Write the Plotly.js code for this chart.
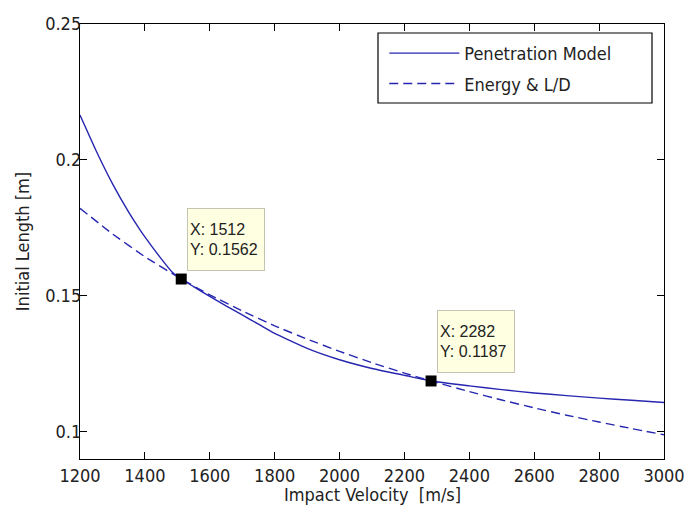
<!DOCTYPE html>
<html>
<head>
<meta charset="utf-8">
<script src="https://cdn.plot.ly/plotly-3.0.1.min.js"></script>
<style>html,body{margin:0;padding:0;background:#fff;}#chart{width:684px;height:519px;}</style>
</head>
<body>
<div id="chart"></div>
<script>
// Penetration Model curve (impact velocity m/s -> initial length m)
var velPenetration = [1200, 1250, 1300, 1350, 1385, 1400, 1450, 1483, 1512, 1550, 1600, 1650, 1700, 1750, 1800, 1900, 2000, 2100, 2200, 2282, 2400, 2500, 2600, 2700, 2800, 2900, 3000];
var lenPenetration = [0.2165, 0.2033, 0.1913, 0.1808, 0.1743, 0.1717, 0.1637, 0.1589, 0.1562, 0.1534, 0.1498, 0.1463, 0.1430, 0.1396, 0.1362, 0.1307, 0.1265, 0.1233, 0.1208, 0.1187, 0.1169, 0.1155, 0.1143, 0.1133, 0.1124, 0.1116, 0.1108];
// Energy & L/D curve
var velEnergy = [1200, 1300, 1400, 1512, 1600, 1700, 1800, 1900, 2000, 2100, 2200, 2282, 2400, 2500, 2600, 2700, 2800, 2900, 3000];
var lenEnergy = [0.1822, 0.1728, 0.1644, 0.1562, 0.1504, 0.1445, 0.1390, 0.1341, 0.1296, 0.1254, 0.1216, 0.1187, 0.1148, 0.1117, 0.1088, 0.1061, 0.1036, 0.1012, 0.0989];
// Data tips
var tipVel = [1512, 2282];
var tipLen = [0.1562, 0.1187];
// Ticks
var xTicks = [1200, 1400, 1600, 1800, 2000, 2200, 2400, 2600, 2800, 3000];
var yTicks = [0.1, 0.15, 0.2, 0.25];
var yTickText = ['0.1', '0.15', '0.2', '0.25'];
var xTitle = 'Impact Velocity&nbsp;&nbsp;[m/s]';
var yTitle = 'Initial Length [m]';

var lineColor = '#2626b0';
var fontFam = '"DejaVu Sans Condensed", "Liberation Sans", Arial, sans-serif';
var txtColor = '#222222';

var traces = [
  {x: velPenetration, y: lenPenetration, type: 'scatter', mode: 'lines', name: 'Penetration Model',
   legendgroup: 'a', line: {color: lineColor, width: 1.4, shape: 'spline', smoothing: 0.4}},
  {x: velEnergy, y: lenEnergy, type: 'scatter', mode: 'lines', name: 'Energy & L/D',
   legendgroup: 'b', line: {color: lineColor, width: 1.4, dash: '9px,5px', shape: 'spline', smoothing: 0.4}},
  {x: tipVel, y: tipLen, type: 'scatter', mode: 'markers', showlegend: false, hoverinfo: 'skip',
   marker: {symbol: 'square', size: 11, color: '#000000'}}
];

var annotations = tipVel.map(function(v, i) {
  return {x: v, y: tipLen[i], xref: 'x', yref: 'y', showarrow: false,
    xanchor: 'left', yanchor: 'bottom', xshift: 6, yshift: 8,
    text: 'X: ' + v + '<br>Y: ' + tipLen[i], align: 'left',
    width: 72, height: 57, valign: 'middle',
    bgcolor: '#ffffe1', bordercolor: '#c4c4b0', borderwidth: 1, borderpad: 2,
    font: {family: '"Liberation Sans", Arial, sans-serif', size: 16, color: txtColor}};
});
annotations.push({x: 0.5, y: -(494 - 459) / 435, xref: 'paper', yref: 'paper', showarrow: false,
  xanchor: 'center', yanchor: 'middle', text: xTitle,
  font: {family: fontFam, size: 18, color: txtColor}});

var layout = {
  width: 684, height: 519,
  margin: {l: 80, r: 20, t: 24, b: 60, pad: 0},
  paper_bgcolor: '#ffffff', plot_bgcolor: '#ffffff',
  font: {family: fontFam, size: 18, color: txtColor},
  showlegend: true,
  legend: {x: 0.92, y: 0.975, xanchor: 'right', yanchor: 'top', bgcolor: 'rgba(0,0,0,0)',
    borderwidth: 0, font: {family: fontFam, size: 18, color: txtColor},
    itemwidth: 70, tracegroupgap: 4},
  xaxis: {range: [1200, 3000], tickvals: xTicks, ticks: 'inside', ticklen: 7, tickcolor: '#000',
    showline: true, linecolor: '#000', linewidth: 1.2, mirror: 'ticks', showgrid: false, zeroline: false,
    ticklabeloverflow: 'allow',
    tickfont: {family: fontFam, size: 18, color: txtColor}},
  yaxis: {range: [0.09, 0.25], tickvals: yTicks, ticktext: yTickText, ticks: 'inside', ticklen: 7, tickcolor: '#000',
    showline: true, linecolor: '#000', linewidth: 1.2, mirror: 'ticks', showgrid: false, zeroline: false,
    ticklabelstandoff: -6, ticklabeloverflow: 'allow',
    tickfont: {family: fontFam, size: 18, color: txtColor},
    title: {text: yTitle, font: {family: fontFam, size: 18, color: txtColor}, standoff: 10}},
  shapes: [
    {type: 'rect', xref: 'paper', yref: 'paper', x0: 298/584, x1: 572/584, y0: (459-103)/435, y1: (459-33)/435,
     line: {color: '#000', width: 1.2}, fillcolor: '#ffffff', layer: 'above'}
  ],
  annotations: annotations
};

Plotly.newPlot('chart', traces, layout, {staticPlot: true, displayModeBar: false});
</script>
</body>
</html>
